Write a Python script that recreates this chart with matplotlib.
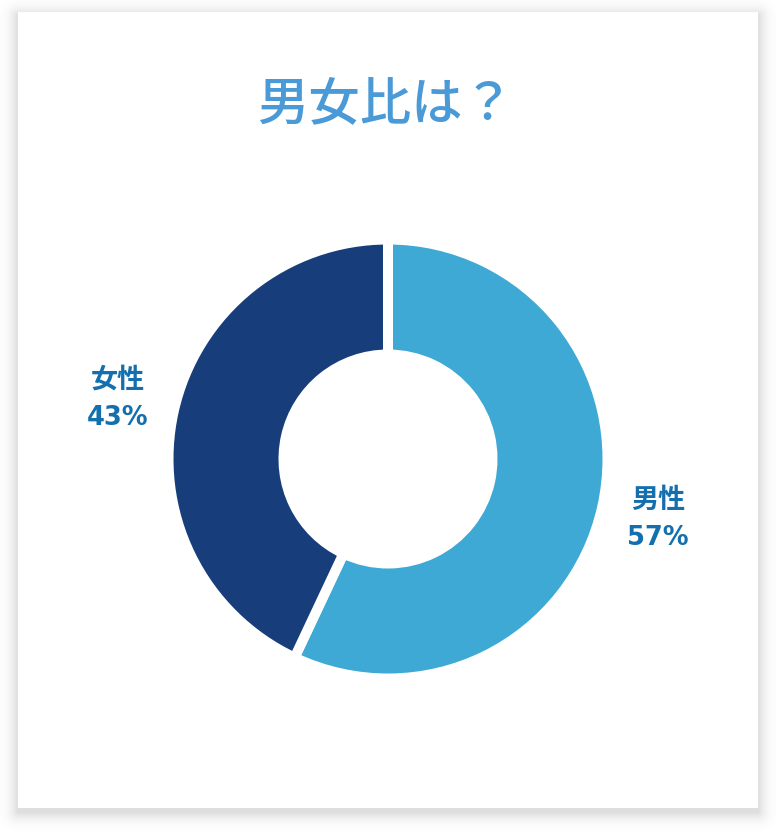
import numpy as np
import matplotlib
matplotlib.use("Agg")
import matplotlib.pyplot as plt
from matplotlib.patches import Rectangle

plt.rcParams['font.family'] = ['Noto Sans CJK JP', 'DejaVu Sans']

title = "男女比は？"
categories = ["男性", "女性"]
values = [57, 43]
colors = ["#3da9d4", "#173d7b"]

W, H = 776, 832
fig = plt.figure(figsize=(W / 100, H / 100), dpi=100)
fig.patch.set_facecolor("white")

# card shadow + card (pixel coordinates)
bg = fig.add_axes([0, 0, 1, 1])
bg.set_xlim(0, W)
bg.set_ylim(H, 0)
bg.axis("off")
cx0, cy0, cx1, cy1 = 18, 12, 758, 808
yy, xx = np.mgrid[0:H, 0:W] + 0.5
sx0, sy0, sx1, sy1 = cx0, cy0 + 4, cx1, cy1 + 4
dx = np.maximum(np.maximum(sx0 - xx, xx - sx1), 0)
dy = np.maximum(np.maximum(sy0 - yy, yy - sy1), 0)
d = np.hypot(dx, dy)
alpha = 0.13 * np.exp(-(d / 8.0) ** 1.3)
shadow = np.zeros((H, W, 4))
shadow[..., 3] = alpha
bg.imshow(shadow, extent=(0, W, H, 0), interpolation="bilinear", zorder=0)
bg.add_patch(Rectangle((cx0, cy0), cx1 - cx0, cy1 - cy0, facecolor="white", edgecolor="none", zorder=1))
bg.set_xlim(0, W)
bg.set_ylim(H, 0)
bg.text(386, 104, title, ha="center", va="center", fontsize=37, fontweight="medium",
        color="#4a9ad8", zorder=2)

# donut
ccx, ccy, half = 388, 459, 260
ax = fig.add_axes([(ccx - half) / W, (H - ccy - half) / H, 2 * half / W, 2 * half / H])
ax.set_xlim(-half, half)
ax.set_ylim(-half, half)
ax.set_aspect("equal")
ax.axis("off")
R = 219.5
wedges, _ = ax.pie(values, colors=colors, startangle=90, counterclock=False, radius=R,
                   wedgeprops=dict(width=115, edgecolor="white", linewidth=7.2))
ax.set_xlim(-half, half)
ax.set_ylim(-half, half)

total = sum(values)
start = 90.0
for cat, v in zip(categories, values):
    mid = start - v / total * 360 / 2
    start -= v / total * 360
    th = np.deg2rad(mid)
    x, y = 1.26 * R * np.cos(th), 1.26 * R * np.sin(th)
    ax.text(x, y + 19, cat, ha="center", va="center", fontsize=19.5, fontweight="bold",
            color="#136fae")
    ax.text(x, y - 19, f"{v}%", ha="center", va="center", fontsize=18.5, fontweight="bold",
            color="#136fae", family=["DejaVu Sans", "Noto Sans CJK JP"])

fig.savefig("out.png", dpi=100, facecolor="white")
